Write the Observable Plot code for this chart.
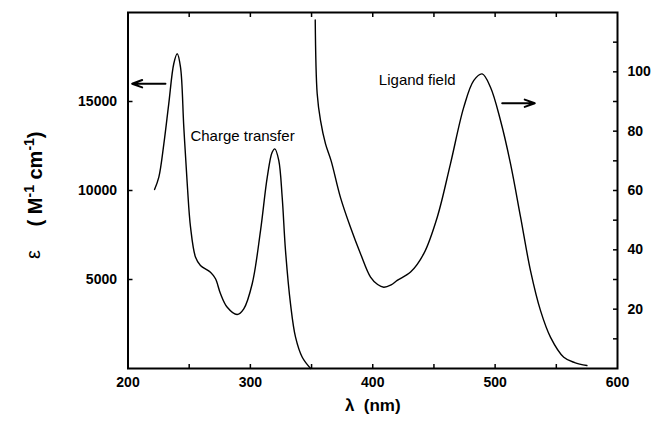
<!DOCTYPE html>
<html><head><meta charset="utf-8">
<script src="https://cdn.jsdelivr.net/npm/d3@7"></script>
<script src="https://cdn.jsdelivr.net/npm/@observablehq/plot@0.6"></script>
<style>body{margin:0;background:#fff}</style>
</head><body><div id="chart"></div>
<script>
// Charge-transfer band (left axis, epsilon in M^-1 cm^-1)
const ctWavelength = [221.7, 225.2, 229.3, 233.3, 237.4, 240.2, 242.9, 245.6, 248.4, 251.1, 255.2, 259.2, 267.4, 271.5, 275.6, 281.1, 289.2, 294.6, 301.5, 308.3, 313.8, 317.8, 320, 323.2, 326, 328.7, 332.8, 336.9, 342.4, 349.2];
const ctEpsilon    = [10056, 10750, 12620, 14870, 17120, 17680, 16930, 13560, 10380, 7940, 6250, 5790, 5410, 5040, 4200, 3440, 3030, 3350, 4760, 7750, 10750, 12150, 12340, 11690, 9620, 6630, 3630, 1760, 630, 0];
// Ligand-field band (right axis, epsilon in M^-1 cm^-1)
const lfWavelength = [353, 354.6, 357.3, 361.4, 366, 373.6, 381.8, 390, 398.2, 404, 409, 415, 420, 430.9, 441.7, 452.7, 463.5, 474.4, 482.6, 489.4, 496.2, 504.4, 512.6, 520.8, 528.9, 537.1, 545.3, 556.1, 565, 575];
const lfEpsilon    = [117.5, 92.6, 83.6, 75.7, 70, 57.7, 47.6, 38.7, 30.8, 28.3, 27.4, 28.2, 29.7, 32.5, 38.7, 51, 69, 88.1, 97.1, 99.3, 94.8, 83.6, 69, 51, 33, 19.5, 10.5, 3.8, 2, 1];
// Axis ticks
const xTicks = [200, 300, 400, 500, 600];
const xMinorTicks = [250, 300, 350, 400, 450, 500, 550];
const leftTicks = [5000, 10000, 15000];
const rightTicks = [20, 40, 60, 80, 100];
const rightMinorTicks = [10, 30, 50, 70, 90, 110];
const leftDomain = [0, 20000];
const rightDomain = [0, 120];
// Labels
const ctLabel = "Charge transfer";
const lfLabel = "Ligand field";
const xLabel = "λ  (nm)";
const yLabelSymbol = "ε";
const yLabelParts = ["( M", "-1", " cm", "-1", ")"];
const yLabelSuperscript = [false, true, false, true, false];

const toLeft = v => v * leftDomain[1] / rightDomain[1];
const ct = ctWavelength.map((x, i) => ({x, y: ctEpsilon[i]}));
const lf = lfWavelength.map((x, i) => ({x, y: toLeft(lfEpsilon[i])}));
const yLabelUnit = yLabelParts.join("");

const font = "'Liberation Sans', Arial, Helvetica, sans-serif";

const chart = Plot.plot({
  width: 654,
  height: 426,
  marginLeft: 127.5,
  marginRight: 37,
  marginTop: 12,
  marginBottom: 58,
  style: {fontFamily: font, background: "white", color: "black", overflow: "visible"},
  x: {domain: [200, 600]},
  y: {domain: leftDomain},
  marks: [
    Plot.axisX({anchor: "bottom", ticks: xTicks, tickFormat: d => String(d), tickSize: 0, tickPadding: 9, fontSize: 14, fontWeight: "bold", label: null}),
    Plot.axisX({anchor: "bottom", ticks: xMinorTicks, tickSize: 4, dy: -4, tickFormat: () => "", label: null, strokeWidth: 1.5}),
    Plot.axisX({anchor: "top", ticks: xMinorTicks, tickSize: 4, dy: 4, tickFormat: () => "", label: null, strokeWidth: 1.5}),
    Plot.axisY({anchor: "left", ticks: leftTicks, tickFormat: d => String(d), tickSize: 5, dx: 5, tickPadding: 11, fontSize: 14, fontWeight: "bold", label: null, strokeWidth: 1.5}),
    Plot.axisY({anchor: "right", ticks: rightTicks.map(toLeft), tickFormat: d => String(Math.round(d * rightDomain[1] / leftDomain[1])), tickSize: 5, dx: -5, tickPadding: 10, fontSize: 14, fontWeight: "bold", label: null, strokeWidth: 1.5}),
    Plot.axisY({anchor: "right", ticks: rightMinorTicks.map(toLeft), tickFormat: () => "", tickSize: 5, dx: -5, label: null, strokeWidth: 1.5}),
    Plot.frame({strokeWidth: 2}),
    Plot.line(ct, {x: "x", y: "y", curve: "catmull-rom", strokeWidth: 1.4}),
    Plot.line(lf, {x: "x", y: "y", curve: "catmull-rom", strokeWidth: 1.4}),
    Plot.arrow([0], {x1: 230.6, y1: 16000, x2: 203.4, y2: 16000, headLength: 8, headAngle: 40, strokeWidth: 2}),
    Plot.arrow([0], {x1: 505.8, y1: toLeft(89.4), x2: 532.4, y2: toLeft(89.4), headLength: 8, headAngle: 40, strokeWidth: 2}),
    Plot.text([ctLabel], {x: 251, y: 12770, textAnchor: "start", lineAnchor: "bottom", fontSize: 15}),
    Plot.text([lfLabel], {x: 405, y: toLeft(95.7), textAnchor: "start", lineAnchor: "bottom", fontSize: 15}),
    Plot.text([xLabel], {frameAnchor: "bottom", dy: 42, fontSize: 17, fontWeight: "bold"}),
    Plot.text([yLabelUnit], {x: 200, y: 10650, rotate: -90, dx: -92.5, fontSize: 20, fontWeight: "bold"}),
    Plot.text([yLabelSymbol], {x: 200, y: 6400, rotate: -90, dx: -94, fontSize: 20})
  ]
});

// Typeset the unit label with real superscripts
d3.select(chart).selectAll("text")
  .filter(function() { return this.textContent === yLabelUnit; })
  .each(function() {
    const t = d3.select(this).text(null);
    let raised = false;
    yLabelParts.forEach((s, i) => {
      const sup = yLabelSuperscript[i];
      const ts = t.append("tspan").text(s);
      if (sup && !raised) { ts.attr("font-size", 14).attr("dy", -8); raised = true; }
      else if (!sup && raised) { ts.attr("dy", 8); raised = false; }
    });
  });

document.getElementById("chart").appendChild(chart);
</script>
</body></html>
